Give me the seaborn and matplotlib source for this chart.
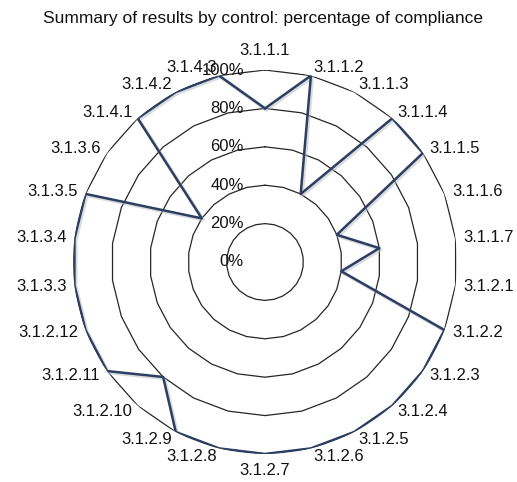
import numpy as np
import pandas as pd
import matplotlib
matplotlib.use("Agg")
import matplotlib.pyplot as plt
import matplotlib.transforms as mtransforms
import seaborn as sns

controls = ["3.1.1.1", "3.1.1.2", "3.1.1.3", "3.1.1.4", "3.1.1.5", "3.1.1.6",
            "3.1.1.7", "3.1.2.1", "3.1.2.2", "3.1.2.3", "3.1.2.4", "3.1.2.5",
            "3.1.2.6", "3.1.2.7", "3.1.2.8", "3.1.2.9", "3.1.2.10", "3.1.2.11",
            "3.1.2.12", "3.1.3.3", "3.1.3.4", "3.1.3.5", "3.1.3.6", "3.1.4.1",
            "3.1.4.2", "3.1.4.3"]
compliance = [80, 100, 40, 100, 100, 40, 60, 40, 100, 100, 100, 100, 100,
              100, 100, 100, 80, 100, 100, 100, 100, 100, 40, 100, 100, 100]
ring_values = [0, 20, 40, 60, 80, 100]
ring_labels = ["0%", "20%", "40%", "60%", "80%", "100%"]

sns.set_theme(style="white")
plt.rcParams["font.family"] = ["Liberation Sans", "DejaVu Sans"]

n = len(controls)
theta = np.arange(n) * 2 * np.pi / n
df = pd.DataFrame({"theta": np.append(theta, theta[0]),
                   "value": compliance + compliance[:1]})

fig = plt.figure(figsize=(5.17, 4.82), dpi=100)
ax = fig.add_axes([0.1412, 0.0581, 0.7427, 0.7967], projection="polar")
ax.set_theta_zero_location("N")
ax.set_theta_direction(-1)
ax.set_ylim(0, 100)
ax.grid(False)
ax.spines["polar"].set_visible(False)
ax.set_xticks([])
ax.set_yticks([])

# polygon gridlines
closed = np.append(theta, theta[0])
for v in ring_values[1:]:
    ax.plot(closed, np.full(closed.shape, v), color="#262626", lw=0.9, zorder=1)

# soft shadow + data line
shadow = mtransforms.offset_copy(ax.transData, fig=fig, x=1.0, y=-1.0, units="points")
ax.plot(df["theta"], df["value"], color="#b5b9c0", lw=2.6, alpha=0.5,
        transform=shadow, zorder=2)
sns.lineplot(data=df, x="theta", y="value", sort=False, ax=ax,
             color="#2c3f62", lw=1.8, zorder=3, estimator=None)
ax.set_xlabel("")
ax.set_ylabel("")

# category labels
for t, name in zip(theta, controls):
    s = np.sin(t)
    if abs(s) < 1e-6:
        top = np.cos(t) > 0
        ax.text(t, 106 if top else 104.5, name, ha="center",
                va="bottom" if top else "top", fontsize=12, color="#111111")
    else:
        ha = "left" if s > 0 else "right"
        ax.text(t, 104.2, name, ha=ha, va="center", fontsize=12, color="#111111")

# radial labels
lab_tr = ax.transData + mtransforms.ScaledTranslation(-0.21, 0, fig.dpi_scale_trans)
for v, lab in zip(ring_values, ring_labels):
    ax.text(0, v, lab, ha="right", va="center", fontsize=12, color="#111111",
            transform=lab_tr)

fig.suptitle("Summary of results by control: percentage of compliance",
             x=0.508, y=0.978, fontsize=12.5, color="#111111")

fig.savefig("out.png", dpi=100)
